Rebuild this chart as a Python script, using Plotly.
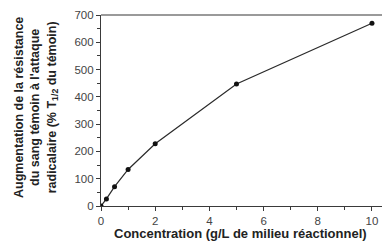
import plotly.graph_objects as go

conc = [0, 0.2, 0.5, 1, 2, 5, 10]
augmentation = [0, 26, 71, 134, 228, 447, 670]

x_ticks = [0, 2, 4, 6, 8, 10]
y_ticks = [0, 100, 200, 300, 400, 500, 600, 700]

x_title = "Concentration (g/L de milieu réactionnel)"
y_title = "Augmentation de la résistance<br>du sang témoin à l'attaque<br>radicalaire (% T<sub>1/2</sub> du témoin)"

FONT = "Liberation Sans, Arial, sans-serif"
AX = "#3a3a3a"

L, R, T, B, W, H = 101, 0, 15, 37, 382, 243
pw, ph = W - L - R, H - T - B

fig = go.Figure()
fig.add_trace(go.Scatter(
    x=conc, y=augmentation, mode="lines+markers",
    line=dict(color="#2a2a2a", width=1.2),
    marker=dict(color="#111111", size=5),
    showlegend=False, hoverinfo="skip",
))

fig.update_layout(
    width=W, height=H,
    margin=dict(l=L, r=R, t=T, b=B, autoexpand=False),
    paper_bgcolor="white", plot_bgcolor="white",
    font=dict(family=FONT, color="#333333", size=11),
    xaxis=dict(
        range=[0, 10.37], tickvals=x_ticks, ticktext=[str(v) for v in x_ticks],
        showgrid=False, zeroline=False, showline=True, linecolor=AX, linewidth=1.2,
        ticks="outside", ticklen=4, tickcolor=AX, tickwidth=1, automargin=False,
        minor=dict(dtick=1, tick0=0, ticks="outside", ticklen=3, tickcolor=AX),
        tickfont=dict(size=11.5, color="#444444"),
    ),
    yaxis=dict(
        range=[0, 700], tickvals=y_ticks, ticktext=[str(v) for v in y_ticks],
        showgrid=False, zeroline=False, showline=True, linecolor=AX, linewidth=1.2,
        ticks="outside", ticklen=4, tickcolor=AX, tickwidth=1, automargin=False,
        minor=dict(dtick=50, tick0=0, ticks="outside", ticklen=3, tickcolor=AX),
        tickfont=dict(size=11.5, color="#444444"),
    ),
    shapes=[dict(type="line", xref="paper", yref="paper", x0=0, x1=1, y0=1, y1=1,
                 line=dict(color="#9a9a9a", width=2))],
    annotations=[
        dict(text="<b>" + x_title + "</b>", xref="paper", yref="paper",
             x=(240 - L) / pw, y=(H - B - 233) / ph, xanchor="center", yanchor="middle",
             showarrow=False, font=dict(size=13, color="#222222")),
        dict(text="<b>" + y_title + "</b>", xref="paper", yref="paper",
             x=(36 - L) / pw, y=(H - B - 108) / ph, xanchor="center", yanchor="middle",
             textangle=-90, showarrow=False, font=dict(size=12.5, color="#222222")),
    ],
)

fig.write_html("out.html", config={"displayModeBar": False},
               post_script="document.body.style.margin='0';document.body.style.overflow='hidden';")
